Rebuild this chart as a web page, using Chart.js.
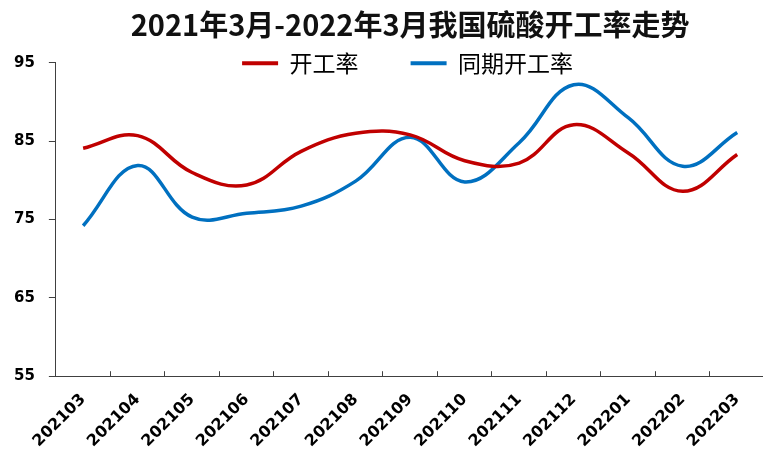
<!DOCTYPE html>
<html>
<head>
<meta charset="utf-8">
<script src="https://cdn.jsdelivr.net/npm/chart.js@4/dist/chart.umd.min.js"></script>
<style>
    html, body { margin: 0; padding: 0; background: #fff; overflow: hidden; }
    #wrap { width: 770px; height: 453px; }
</style>
</head>
<body>
<div id="wrap"><canvas id="rateChart" width="770" height="453"></canvas></div>
<script>
const months = ['202103', '202104', '202105', '202106', '202107', '202108', '202109',
    '202110', '202111', '202112', '202201', '202202', '202203'];
const rate = [84.1, 85.7, 81.0, 79.4, 83.7, 86.0, 85.8, 82.5, 82.2, 87.1, 83.5, 78.6, 83.3];
const rateLastYear = [74.2, 81.9, 75.3, 75.8, 76.7, 79.9, 85.5, 79.8, 84.8, 92.2, 88.0, 81.8, 86.1];
const yTicks = [55, 65, 75, 85, 95];

const RED = '#C00000';
const BLUE = '#0070C0';
const AXIS = '#404040';

// the legend sits across the top edge of the plot, so let it draw past its own box
const legendOverlap = {
    id: 'legendOverlap',
    afterLayout(chart) {
        if (chart.legend) chart.legend.bottom = chart.legend.top + 40;
    }
};

const ctx = document.getElementById('rateChart');

new Chart(ctx, {
    type: 'line',
    data: {
        labels: months,
        datasets: [
            {
                label: '开工率',
                data: rate,
                borderColor: RED,
                backgroundColor: RED,
                borderWidth: 3.5,
                pointRadius: 0,
                tension: 0.4
            },
            {
                label: '同期开工率',
                data: rateLastYear,
                borderColor: BLUE,
                backgroundColor: BLUE,
                borderWidth: 3.5,
                pointRadius: 0,
                tension: 0.4
            }
        ]
    },
    plugins: [legendOverlap],
    options: {
        responsive: false,
        animation: false,
        layout: { padding: { left: 0, right: 0, top: 0, bottom: -17 } },
        plugins: {
            title: {
                display: true,
                text: '2021年3月-2022年3月我国硫酸开工率走势',
                fullSize: false,
                color: '#111',
                font: { family: '"Noto Sans CJK SC", sans-serif', size: 29, weight: 'bold', lineHeight: 1.2 },
                padding: { top: 8, bottom: 3 }
            },
            legend: {
                position: 'top',
                fullSize: false,
                maxHeight: 17,
                labels: {
                    color: '#000',
                    font: { family: '"Noto Sans CJK SC", sans-serif', size: 23 },
                    boxWidth: 36,
                    boxHeight: 4,
                    padding: 6,
                    generateLabels(chart) {
                        const items = Chart.defaults.plugins.legend.labels.generateLabels(chart);
                        items.forEach((it, i) => {
                            it.lineWidth = 0;
                            it.fillStyle = it.strokeStyle;
                            // gap after the first entry, as in the original legend
                            it.text = it.text + (i === 0 ? '\u3000\u3000' : ' ');
                        });
                        return items;
                    }
                }
            },
            tooltip: { enabled: false }
        },
        scales: {
            x: {
                offset: true,
                border: { display: true, color: AXIS, width: 1 },
                grid: { offset: true, drawOnChartArea: false, drawTicks: true, tickLength: -5, color: AXIS },
                ticks: {
                    color: '#000',
                    minRotation: 45,
                    maxRotation: 45,
                    padding: 19,
                    font: { family: '"DejaVu Sans", sans-serif', size: 16, weight: 'bold' }
                }
            },
            y: {
                min: 55,
                max: 95,
                border: { display: true, color: AXIS, width: 1 },
                grid: { drawOnChartArea: false, drawTicks: true, tickLength: 7, color: AXIS },
                afterBuildTicks(scale) {
                    scale.ticks = yTicks.map(v => ({ value: v }));
                },
                ticks: {
                    color: '#000',
                    padding: 14,
                    font: { family: '"DejaVu Sans", sans-serif', size: 15, weight: 'bold' }
                }
            }
        }
    }
});
</script>
</body>
</html>
